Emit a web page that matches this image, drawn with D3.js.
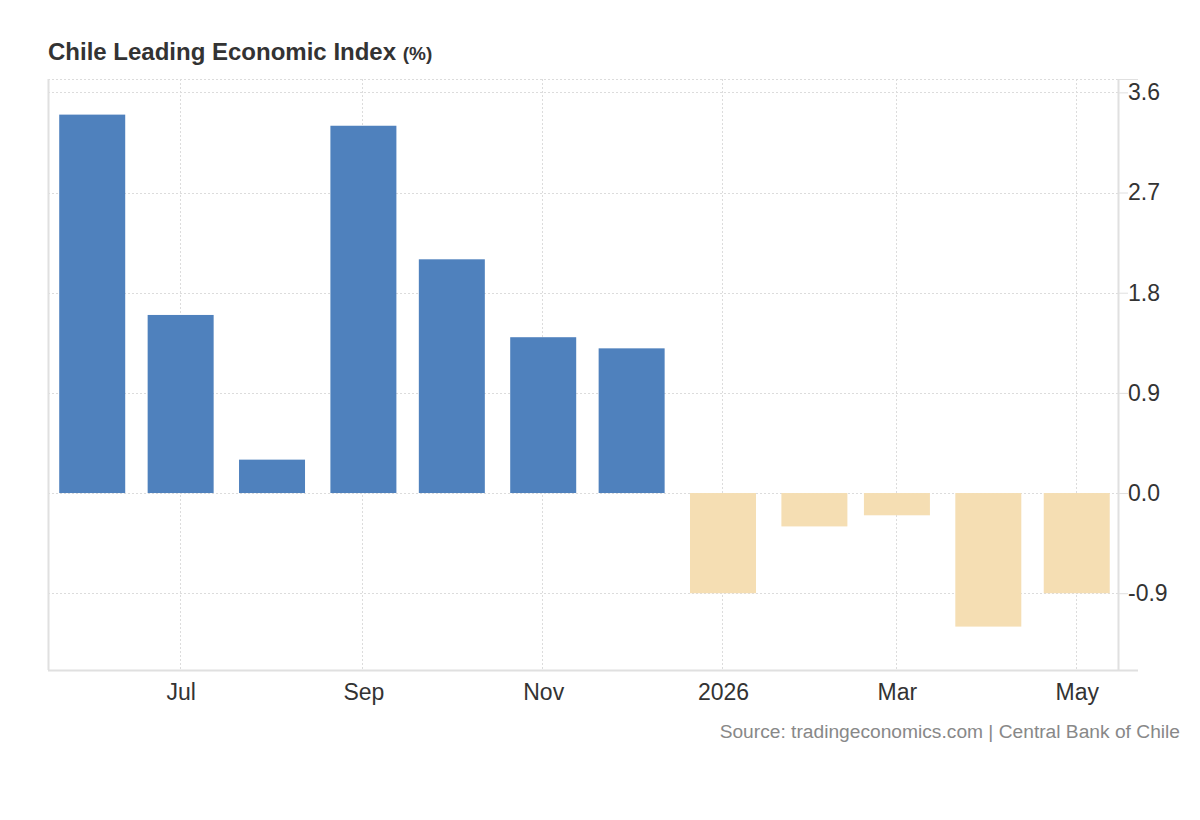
<!DOCTYPE html>
<html>
<head>
<meta charset="utf-8">
<script src="https://cdn.jsdelivr.net/npm/d3@7"></script>
<style>
  body { margin: 0; background: #fff; }
  svg { font-family: "Liberation Sans", Arial, sans-serif; }
</style>
</head>
<body>
<svg id="chart" width="1200" height="820"></svg>
<script>
const months = ["2025-06-01","2025-07-01","2025-08-01","2025-09-01","2025-10-01","2025-11-01","2025-12-01","2026-01-01","2026-02-01","2026-03-01","2026-04-01","2026-05-01"];
const values = [3.4, 1.6, 0.3, 3.3, 2.1, 1.4, 1.3, -0.9, -0.3, -0.2, -1.2, -0.9];
const yTicks = [-0.9, 0, 0.9, 1.8, 2.7, 3.6];
const xTickDates = ["2025-07-01","2025-09-01","2025-11-01","2026-01-01","2026-03-01","2026-05-01"];
const xTickLabels = ["Jul","Sep","Nov","2026","Mar","May"];

(function () {
const parse = d3.utcParse("%Y-%m-%d");
const data = months.map((m, i) => ({ date: parse(m), value: values[i] }));

const svg = d3.select("#chart");
const pLeft = 48, pRight = 1118, pTop = 79, pBottom = 670;

const x = d3.scaleUtc()
  .domain([parse("2025-05-17"), parse("2026-05-15")])
  .range([pLeft, pRight]);
const y = d3.scaleLinear().domain([-1.59, 3.72]).range([pBottom, pTop]);

const gridColor = "#dcdcdc";
const axisColor = "#e0e0e0";

// top dotted border
svg.append("line").attr("x1", pLeft).attr("x2", pRight).attr("y1", pTop + 0.5).attr("y2", pTop + 0.5)
  .attr("stroke", gridColor).attr("stroke-dasharray", "2,2");

// horizontal grid
svg.append("g").selectAll("line").data(yTicks).join("line")
  .attr("x1", pLeft).attr("x2", pRight)
  .attr("y1", d => Math.round(y(d)) + 0.5).attr("y2", d => Math.round(y(d)) + 0.5)
  .attr("stroke", gridColor).attr("stroke-dasharray", "2,2");

// vertical grid
svg.append("g").selectAll("line").data(xTickDates).join("line")
  .attr("x1", d => Math.round(x(parse(d))) - 0.5).attr("x2", d => Math.round(x(parse(d))) - 0.5)
  .attr("y1", pTop).attr("y2", pBottom)
  .attr("stroke", gridColor).attr("stroke-dasharray", "2,2");

// bars
const barW = 66;
svg.append("g").selectAll("rect").data(data).join("rect")
  .attr("x", d => x(d.date) - barW / 2)
  .attr("width", barW)
  .attr("y", d => Math.min(y(0), y(d.value)))
  .attr("height", d => Math.abs(y(d.value) - y(0)))
  .attr("fill", d => d.value >= 0 ? "#4f81bd" : "#f5deb3");

// left border
svg.append("line").attr("x1", pLeft + 0.5).attr("x2", pLeft + 0.5).attr("y1", pTop).attr("y2", pBottom)
  .attr("stroke", axisColor).attr("stroke-width", 2);

// x axis
const xAxis = d3.axisBottom(x)
  .tickValues(xTickDates.map(parse))
  .tickFormat((d, i) => xTickLabels[i])
  .tickSize(0).tickPadding(14);
const gx = svg.append("g").attr("transform", `translate(0,${pBottom})`).call(xAxis);
gx.select(".domain").remove();
gx.selectAll("text").attr("font-size", 23).attr("fill", "#333").attr("font-family", "Liberation Sans, Arial, sans-serif");
svg.append("line").attr("x1", pLeft).attr("x2", 1138).attr("y1", pBottom + 0.5).attr("y2", pBottom + 0.5)
  .attr("stroke", axisColor).attr("stroke-width", 2);

// y axis (right)
const yAxis = d3.axisRight(y).tickValues(yTicks).tickFormat(d => d.toFixed(1))
  .tickSize(10).tickPadding(0);
const gy = svg.append("g").attr("transform", `translate(${pRight},0)`).call(yAxis);
gy.select(".domain").attr("stroke", axisColor).attr("stroke-width", 2).attr("d", `M0.5,${pTop}V${pBottom}`);
gy.selectAll(".tick line").attr("stroke", axisColor);
gy.selectAll("text").attr("font-size", 23).attr("fill", "#333").attr("font-family", "Liberation Sans, Arial, sans-serif").attr("x", 10);
svg.append("line").attr("x1", pRight).attr("x2", 1138).attr("y1", pTop + 0.5).attr("y2", pTop + 0.5)
  .attr("stroke", axisColor);

// title
const title = svg.append("text").attr("x", 48).attr("y", 60).attr("fill", "#333")
  .attr("font-weight", "bold").attr("font-size", 24);
title.append("tspan").text("Chile Leading Economic Index ");
title.append("tspan").attr("font-size", 19).text("(%)");

// source
svg.append("text").attr("x", 1180).attr("y", 738).attr("text-anchor", "end")
  .attr("fill", "#888").attr("font-size", 19.2)
  .text("Source: tradingeconomics.com | Central Bank of Chile");
})();
</script>
</body>
</html>
